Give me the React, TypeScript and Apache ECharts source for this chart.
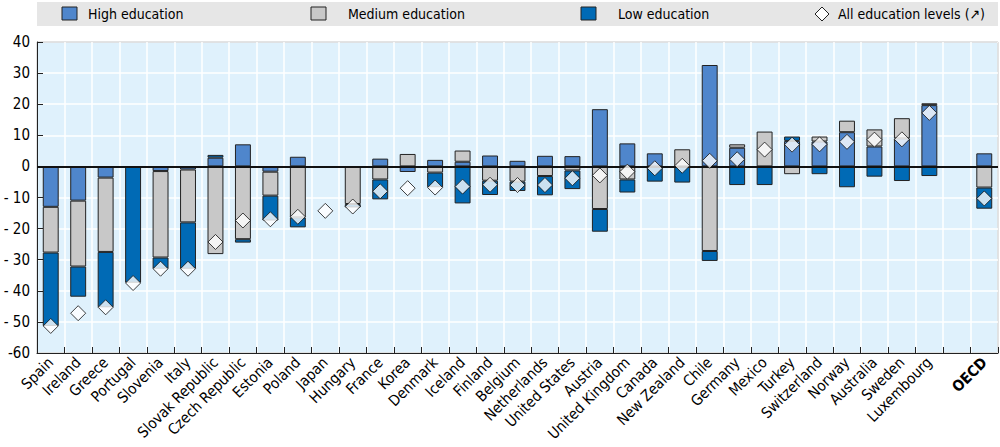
import React, { useEffect, useRef } from "react";
import * as echarts from "echarts";

const countries = [
  "Spain", "Ireland", "Greece", "Portugal", "Slovenia", "Italy", "Slovak Republic", "Czech Republic",
  "Estonia", "Poland", "Japan", "Hungary", "France", "Korea", "Denmark", "Iceland", "Finland",
  "Belgium", "Netherlands", "United States", "Austria", "United Kingdom", "Canada", "New Zealand",
  "Chile", "Germany", "Mexico", "Turkey", "Switzerland", "Norway", "Australia", "Sweden",
  "Luxembourg", "", "OECD",
];

const highEdu = [
  -13, -11, -3.6, null, -1.5, -1.0, 2.8, 7.1,
  -1.7, 3.1, null, null, 2.5, -1.8, 2.1, 1.5, 3.5,
  1.8, 3.4, 3.3, 18.4, 7.4, 4.2, null,
  32.6, 6.0, null, 8.2, 8.0, 11.0, 6.4, 9.0,
  19.7, null, 4.2,
];

const mediumEdu = [
  -14.7, -21.2, -23.9, null, -27.8, -17.0, -28.2, -23.4,
  -7.7, -16.4, null, -12.1, -4.2, 4.0, -2.0, 3.6, -4.6,
  -4.9, -3.1, -1.3, -13.7, -4.2, null, 5.5,
  -27.2, 1.1, 11.2, -2.5, 1.6, 3.7, 5.5, 6.5,
  0.6, null, -6.8,
];

const lowEdu = [
  -23.6, -9.7, -17.8, -37.4, -3.6, -14.9, 0.9, -1.1,
  -8.0, -3.2, null, -1.1, -6.4, null, -4.7, -11.9, -4.6,
  -3.0, -6.2, -6.0, -7.3, -4.2, -4.9, -5.2,
  -3.2, -6.0, -6.0, 1.4, -2.5, -6.7, -3.3, -4.7,
  -3.1, null, -6.8,
];

const allEdu = [
  -51.3, -47.2, -45.3, -37.5, -32.9, -32.9, -24.3, -17.4,
  -17.0, -16.2, -14.3, -12.9, -8.0, -7.0, -6.8, -6.5, -5.9,
  -6.0, -6.0, -3.8, -2.9, -1.7, -0.6, 0.2,
  1.8, 2.3, 5.4, 7.0, 7.1, 7.9, 8.6, 8.7,
  17.2, null, -10.3,
];

const legendNames = ["High education", "Medium education", "Low education", "All education levels (\u2197)"];

const HIGH = "#4f86cc";
const MED = "#c8c8c8";
const LOW = "#006ab5";
const FONT = '"Liberation Sans Narrow", "DejaVu Sans Condensed", "Liberation Sans", sans-serif';

export default function App() {
  const ref = useRef<HTMLDivElement>(null);
  useEffect(() => {
    document.body.style.margin = "0";
    const chart = echarts.init(ref.current!, null, { renderer: "svg" });
    const barBase = {
      type: "bar",
      stack: "edu",
      barWidth: "58%",
      itemStyle: { borderColor: "#222", borderWidth: 1 },
    };
    const legendText = (x: number, text: string) => ({
      type: "text",
      x,
      y: 14,
      style: {
        text,
        fill: "#000",
        font: `14px ${FONT}`,
        textVerticalAlign: "middle",
        verticalAlign: "middle",
      },
    });
    const swatch = (x: number, color: string) => ({
      type: "rect",
      shape: { x, y: 7, width: 15, height: 13 },
      style: { fill: color, stroke: "#222", lineWidth: 1 },
    });
    const option = {
      animation: false,
      grid: {
        left: 37,
        right: 2,
        top: 42,
        bottom: 94,
        containLabel: false,
        outerBoundsMode: "none",
        show: true,
        backgroundColor: "#dff1fc",
        borderColor: "#222",
        borderWidth: 1,
      },
      graphic: [
        { type: "rect", shape: { x: 37, y: 2, width: 961, height: 24 }, style: { fill: "#e6e6e6" } },
        swatch(62, HIGH),
        legendText(88, legendNames[0]),
        swatch(311, MED),
        legendText(348, legendNames[1]),
        swatch(581, LOW),
        legendText(618, legendNames[2]),
        {
          type: "polygon",
          shape: { points: [[822, 7], [829, 14], [822, 21], [815, 14]] },
          style: { fill: "#fff", stroke: "#222", lineWidth: 1 },
        },
        legendText(838, legendNames[3]),
      ],
      xAxis: {
        type: "category",
        data: countries,
        boundaryGap: true,
        axisLine: { onZero: false, lineStyle: { color: "#222", width: 1 } },
        axisTick: { show: true, inside: true, length: 6, lineStyle: { color: "#222" } },
        splitLine: { show: true, lineStyle: { color: "#ffffff", width: 1.5 } },
        axisLabel: {
          interval: 0,
          rotate: 45,
          margin: 7,
          color: "#000",
          fontSize: 15,
          fontFamily: FONT,
          formatter: (v: string) => (v === "OECD" ? "{b|OECD}" : v),
          rich: { b: { fontWeight: "bold", fontSize: 15, fontFamily: FONT, color: "#000" } },
        },
      },
      yAxis: {
        type: "value",
        min: -60,
        max: 40,
        interval: 10,
        axisLine: { show: true, lineStyle: { color: "#222" } },
        axisTick: { show: true, inside: true, length: 6, lineStyle: { color: "#222" } },
        splitLine: { show: true, lineStyle: { color: "#ffffff", width: 1.5 } },
        axisLabel: {
          color: "#000",
          fontSize: 15,
          fontFamily: FONT,
          margin: 7,
          formatter: (v: number) => (v < 0 ? (v === -60 ? "-60" : "- " + Math.abs(v)) : String(v)),
        },
      },
      series: [
        { ...barBase, name: legendNames[0], data: highEdu, itemStyle: { ...barBase.itemStyle, color: HIGH } },
        { ...barBase, name: legendNames[1], data: mediumEdu, itemStyle: { ...barBase.itemStyle, color: MED } },
        {
          ...barBase,
          name: legendNames[2],
          data: lowEdu,
          itemStyle: { ...barBase.itemStyle, color: LOW },
          markLine: {
            silent: true,
            symbol: "none",
            label: { show: false },
            lineStyle: { color: "#111", width: 2, type: "solid" },
            data: [{ yAxis: 0 }],
          },
        },
        {
          type: "scatter",
          name: legendNames[3],
          data: allEdu,
          symbol: "diamond",
          symbolSize: [15, 15],
          z: 5,
          itemStyle: { color: "#fff", borderColor: "#111", borderWidth: 1 },
        },
      ],
    };
    chart.setOption(option as any);
    return () => chart.dispose();
  }, []);
  return <div ref={ref} style={{ position: "absolute", left: 0, top: 0, width: 1000, height: 447 }} />;
}
